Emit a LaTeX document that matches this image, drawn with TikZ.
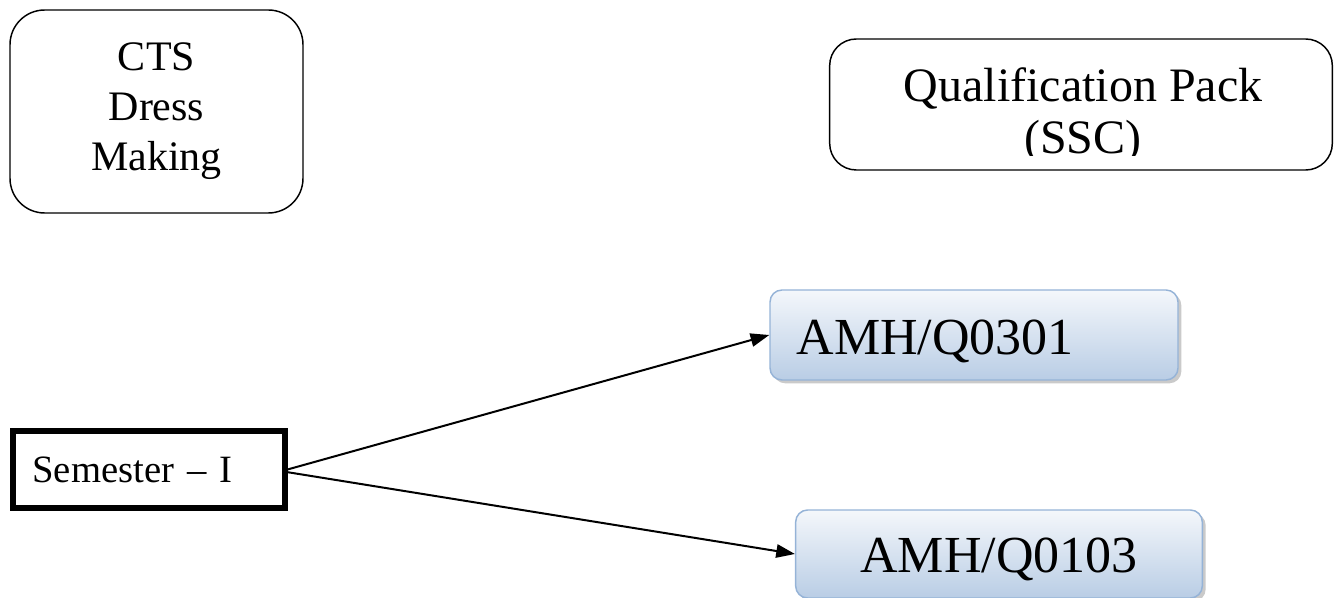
\documentclass[tikz,border=0pt]{standalone}
\usepackage{fontspec}
\setmainfont{Liberation Serif}
\usetikzlibrary{arrows.meta,shadows}
\definecolor{qpborder}{HTML}{95B3D7}
\definecolor{qpbot}{HTML}{B9CDE5}
\definecolor{qptop}{HTML}{F4F7FB}
\tikzset{
  roundbox/.style={draw=black, line width=1.1pt, rounded corners=26pt, inner sep=0pt},
  qpbox/.style={draw=qpborder, line width=1.1pt, rounded corners=9pt, inner sep=0pt,
    top color=qptop, bottom color=qpbot,
    drop shadow={shadow xshift=2.5pt, shadow yshift=-2.5pt, fill=black!35, opacity=0.6}},
  sembox/.style={draw=black, line width=4.5pt, inner sep=0pt},
  conn/.style={line width=1.5pt, -{Triangle[length=14pt,width=10pt]}},
}
\begin{document}
\begin{tikzpicture}[x=0.75pt,y=-0.75pt]
\useasboundingbox (0,0) rectangle (1335,598);
% CTS box
\node[roundbox, minimum width=219.75pt, minimum height=152.25pt, align=center,
  font=\fontsize{31.5pt}{37.5pt}\selectfont] (cts) at (156.5,111.5)
  {CTS\\Dress\\Making};
% Qualification pack box
\node[roundbox, rounded corners=20pt, minimum width=377pt, minimum height=98.25pt] (qp) at (1081,104.5) {};
\begin{scope}
  \clip (829,39) rectangle (1335,155.5);
  \node[align=center, inner sep=0pt, font=\fontsize{36pt}{39pt}\selectfont, anchor=base] (qpt) at (1083,154)
    {Qualification Pack\\(SSC)};
\end{scope}
% AMH boxes
\node[qpbox, minimum width=306pt, minimum height=67.5pt, text width=266pt, align=left,
  text height=30pt, text depth=0pt,
  font=\fontsize{39pt}{44pt}\selectfont] (q1) at (974,335) {AMH/Q0301};
\node[qpbox, minimum width=305pt, minimum height=66pt, align=center,
  text height=27pt, text depth=0pt,
  font=\fontsize{39pt}{44pt}\selectfont] (q2) at (999,554) {AMH/Q0103};
% Semester box
\node[sembox, minimum width=204pt, minimum height=58pt, text width=174pt, align=left,
  font=\fontsize{29pt}{33pt}\selectfont] (sem) at (148.5,469.5) {Semester -- I};
% connectors
\draw[conn] (sem.east) -- (q1.west);
\draw[conn] ([yshift=-2pt]sem.east) -- (q2.west);
\end{tikzpicture}
\end{document}
